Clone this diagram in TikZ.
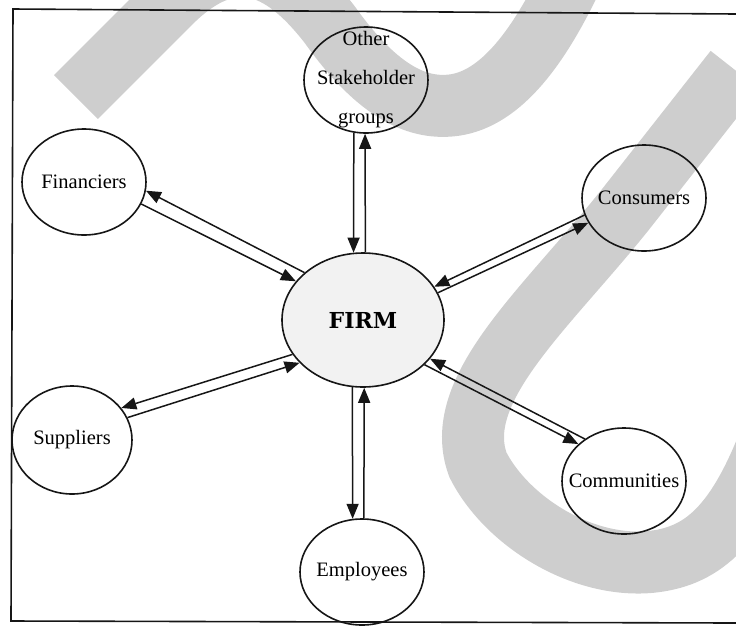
\documentclass[tikz,border=0pt]{standalone}
\usepackage{fontspec}
\setmainfont{Liberation Serif}
\newfontfamily\firmfont{DejaVu Serif}
\usetikzlibrary{arrows.meta, shapes.geometric}

\definecolor{ink}{RGB}{22,22,22}
\definecolor{swoosh}{RGB}{206,206,206}
\definecolor{firmfill}{RGB}{242,242,242}

\tikzset{
  party/.style={ellipse, draw=ink, line width=1.6pt, inner sep=-30pt,
    minimum width=124pt, minimum height=106pt,
    font=\fontsize{20.5}{39}\selectfont, align=center},
  flow/.style={draw=ink, line width=1.5pt, -{Triangle[length=15pt,width=12pt]}},
}

\begin{document}
\begin{tikzpicture}[x=1pt, y=-1pt]
\useasboundingbox (0,0) rectangle (736,625);

% grey strokes lying under the chart
\begin{scope}
\clip (0,0) rectangle (736,625);
\draw[swoosh, line width=62pt] (76,97) -- (170,3)
  .. controls (230,-57) and (280,-40) .. (330,25)
  .. controls (380,95) and (420,110) .. (455,105)
  .. controls (500,98) and (540,50) .. (580,-40);
\draw[swoosh, line width=62pt] (735,70) -- (625,210)
  .. controls (545,310) and (450,390) .. (478,465)
  .. controls (506,520) and (580,568) .. (650,562)
  .. controls (700,557) and (735,530) .. (770,440);
\end{scope}

% frame
\draw[ink, line width=1.6pt] (736,14) -- (13,9) -- (11,621) -- (736,623);

% the firm and its stakeholders
\node[party] (sh) at (366,80) {Other\\Stakeholder\\groups};
\node[party] (fin) at (84,182) {Financiers};
\node[party] (con) at (644,198) {Consumers};
\node[party, fill=firmfill, minimum width=162pt, minimum height=134pt,
  font=\firmfont\bfseries\fontsize{22}{26}\selectfont] (firm) at (363,320) {FIRM};
\node[party, minimum width=120pt, minimum height=108pt] (sup) at (72,440) {Suppliers};
\node[party] (com) at (624,481) {Communities};
\node[party] (emp) at (362,572) {Employees};

% two-way flows
\draw[flow] (sh.257) -- (firm.98);
\draw[flow] (firm.88) -- (sh.269);
\draw[flow] (firm.141) -- (fin.-8);
\draw[flow] (fin.-21) -- (firm.150);
\draw[flow] (con.196) -- (firm.25);
\draw[flow] (firm.20) -- (con.204);
\draw[flow] (firm.206) -- (sup.33);
\draw[flow] (sup.22) -- (firm.214);
\draw[flow] (com.133) -- (firm.-30);
\draw[flow] (firm.-36) -- (com.141);
\draw[flow] (firm.261) -- (emp.100);
\draw[flow] (emp.88) -- (firm.271);
\end{tikzpicture}
\end{document}
